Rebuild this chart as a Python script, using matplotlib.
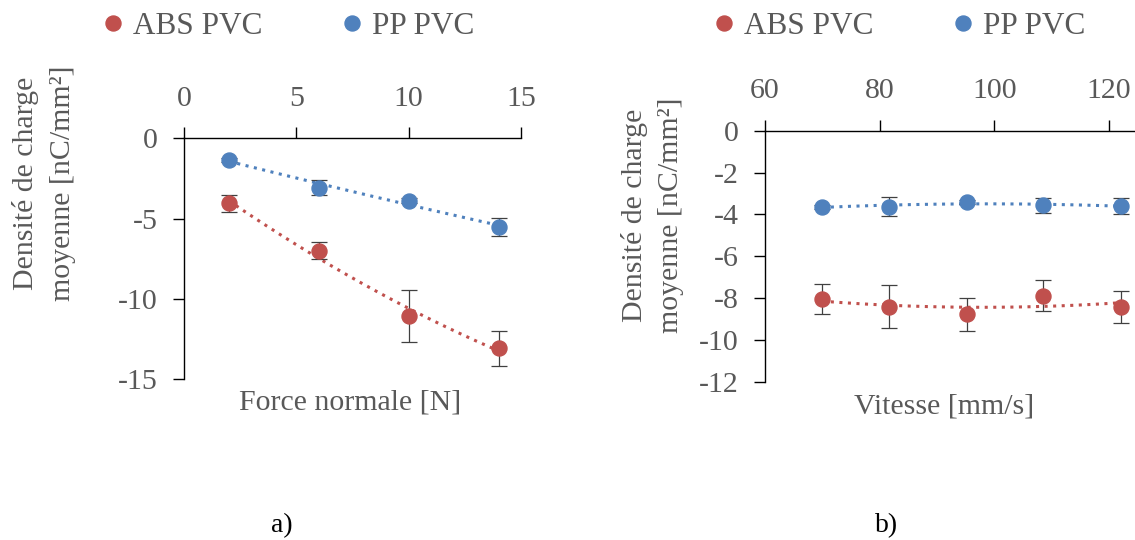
import numpy as np
import matplotlib
matplotlib.use("Agg")
import matplotlib.pyplot as plt
from matplotlib.lines import Line2D

plt.rcParams["font.family"] = ["Liberation Serif", "DejaVu Serif"]
plt.rcParams["axes.unicode_minus"] = False

# a) force normale
force = [2, 6, 10, 14]
abs_force = [-4.05, -7.0, -11.06, -13.07]
abs_force_err = [0.55, 0.52, 1.6, 1.09]
pp_force = [-1.35, -3.07, -3.88, -5.5]
pp_force_err = [0.15, 0.45, 0.15, 0.55]

# b) vitesse
speed = [70, 81.7, 95.2, 108.6, 122.1]
abs_speed = [-8.05, -8.42, -8.78, -7.89, -8.42]
abs_speed_err = [0.71, 1.02, 0.8, 0.74, 0.77]
pp_speed = [-3.64, -3.64, -3.40, -3.57, -3.60]
pp_speed_err = [0.1, 0.45, 0.1, 0.37, 0.36]

RED = "#C0504D"
BLUE = "#4F81BD"
GRAY = "#595959"
FS = 21.5
W, H = 1135, 540


def series(ax, x, y, err, color):
    x = np.asarray(x, float)
    y = np.asarray(y, float)
    ax.errorbar(x, y, yerr=err, fmt="none", ecolor="#404040", elinewidth=0.9,
                capsize=6, capthick=0.9, zorder=2)
    # trendline (polynomial, order 2) like Excel
    c = np.polyfit(x, y, 2)
    xx = np.linspace(x.min(), x.max(), 200)
    ax.plot(xx, np.polyval(c, xx), color=color, lw=2.2, ls=(0, (1, 1.8)), zorder=1)
    ax.plot(x, y, "o", color=color, ms=10.8, zorder=3)


def style(ax):
    ax.xaxis.tick_top()
    for s in ("right", "bottom"):
        ax.spines[s].set_visible(False)
    for s in ("top", "left"):
        ax.spines[s].set_linewidth(1.0)
        ax.spines[s].set_color("black")
    ax.tick_params(direction="out", length=8, width=1, color="black",
                   labelsize=FS, labelcolor=GRAY, pad=11)
    ax.patch.set_alpha(0)


def legend(ax, cx):
    h = [Line2D([], [], ls="none", marker="o", ms=10.8, color=RED),
         Line2D([], [], ls="none", marker="o", ms=10.8, color=BLUE)]
    lg = ax.legend(h, ["ABS PVC", "PP PVC"], ncol=2, frameon=False,
                   loc="center", bbox_to_anchor=(cx / W, 1 - 26 / H),
                   bbox_transform=fig.transFigure, fontsize=FS + 1,
                   handlelength=0.6, handletextpad=0.36, columnspacing=2.55,
                   borderpad=0, borderaxespad=0)
    for t in lg.get_texts():
        t.set_color(GRAY)


fig = plt.figure(figsize=(W / 100, H / 100), dpi=100)

# left panel: x 0..15 -> px 184..521, y 0..-15 -> px 138.3..379.3
ax1 = fig.add_axes([184 / W, 1 - 379.3 / H, 337 / W, 241 / H])
series(ax1, force, abs_force, abs_force_err, RED)
series(ax1, force, pp_force, pp_force_err, BLUE)
ax1.set_xlim(0, 15)
ax1.set_ylim(-15, 0)
ax1.set_xticks([0, 5, 10, 15])
ax1.set_yticks([0, -5, -10, -15])
style(ax1)
legend(ax1, 289)

# right panel: x 60..140 -> px 765..1223 (cropped), y 0..-12 -> px 130.7..381.7
ax2 = fig.add_axes([765 / W, 1 - 381.7 / H, 458.4 / W, 251 / H])
series(ax2, speed, abs_speed, abs_speed_err, RED)
series(ax2, speed, pp_speed, pp_speed_err, BLUE)
ax2.set_xlim(60, 140)
ax2.set_ylim(-12, 0)
ax2.set_xticks([60, 80, 100, 120])
ax2.set_yticks([0, -2, -4, -6, -8, -10, -12])
style(ax2)
legend(ax2, 900)

ylab = "Densité de charge\nmoyenne [nC/mm²]"
fig.text(44 / W, 1 - 183 / H, ylab, rotation=90, ha="center", va="center",
         multialignment="center", fontsize=FS, color=GRAY, linespacing=1.5)
fig.text(653 / W, 1 - 215 / H, ylab, rotation=90, ha="center", va="center",
         multialignment="center", fontsize=FS, color=GRAY, linespacing=1.5)

fig.text(350 / W, 1 - 403 / H, "Force normale [N]", ha="center", va="center",
         fontsize=FS, color=GRAY)
fig.text(944 / W, 1 - 407 / H, "Vitesse [mm/s]", ha="center", va="center",
         fontsize=FS, color=GRAY)

fig.text(282 / W, 1 - 526 / H, "a)", ha="center", va="center", fontsize=20, color="black")
fig.text(887 / W, 1 - 526 / H, "b)", ha="center", va="center", fontsize=20, color="black")

fig.savefig("out.png", dpi=100, facecolor="white")
